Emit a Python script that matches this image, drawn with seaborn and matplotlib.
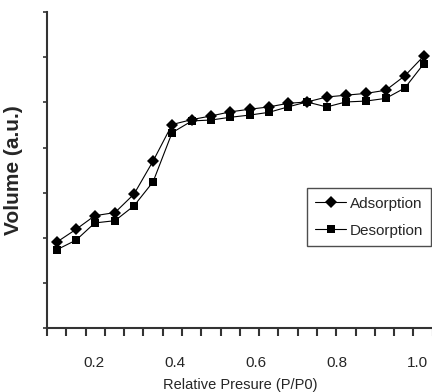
"""
Adsorption / desorption isotherm (volume vs relative pressure).
"""

import matplotlib
matplotlib.use("Agg")
import matplotlib.pyplot as plt
import numpy as np
import pandas as pd
import seaborn as sns

# relative pressure P/P0
P_REL = [0.109, 0.156, 0.202, 0.252, 0.299, 0.346, 0.393, 0.442, 0.489, 0.536,
         0.585, 0.632, 0.679, 0.726, 0.775, 0.822, 0.872, 0.921, 0.968, 1.015]
# volume in arbitrary units
ADSORPTION = [1.91, 2.19, 2.49, 2.56, 2.97, 3.70, 4.51, 4.62, 4.70, 4.79,
              4.85, 4.90, 4.98, 5.01, 5.12, 5.16, 5.20, 5.27, 5.59, 6.03]
DESORPTION = [1.74, 1.95, 2.33, 2.38, 2.71, 3.24, 4.33, 4.59, 4.61, 4.67,
              4.72, 4.78, 4.90, 5.01, 4.90, 5.01, 5.03, 5.09, 5.32, 5.86]
XTICK_LABELS = ["0.2", "0.4", "0.6", "0.8", "1.0"]
XTICKS = [0.2, 0.4, 0.6, 0.8, 1.0]

X_MIN, X_MAX = 0.084, 1.037
Y_MIN, Y_MAX = 0, 7


if __name__ == "__main__":
    sns.set_style("ticks")
    plt.rcParams["font.family"] = ["Liberation Sans", "DejaVu Sans"]

    df = pd.DataFrame({
        "p": P_REL * 2,
        "v": ADSORPTION + DESORPTION,
        "series": ["Adsorption"] * len(P_REL) + ["Desorption"] * len(P_REL),
    })

    fig = plt.figure(figsize=(4.32, 3.92), dpi=100)
    ax = fig.add_axes([0.1088, 0.163, 0.893, 0.806])

    sns.lineplot(
        data=df, x="p", y="v", hue="series", style="series",
        palette=["black", "black"], markers={"Adsorption": "D", "Desorption": "s"},
        dashes=False, linewidth=0.8, markersize=6, markeredgewidth=0,
        ax=ax,
    )

    ax.set_xlim(X_MIN, X_MAX)
    ax.set_ylim(Y_MIN, Y_MAX)
    sns.despine(ax=ax)
    for s in ["left", "bottom"]:
        ax.spines[s].set_color("#333333")
        ax.spines[s].set_linewidth(1.5)

    # labelled positions without marks, short marks between categories
    ax.set_xticks(XTICKS)
    ax.set_xticklabels(XTICK_LABELS, fontsize=11)
    ax.set_xticks(np.linspace(X_MIN, X_MAX, 21), minor=True)
    ax.tick_params(axis="x", which="major", length=0, pad=20)
    ax.tick_params(axis="x", which="minor", length=6, width=1.5, color="#333333", direction="out")
    ax.set_yticks(range(Y_MIN, Y_MAX + 1))
    ax.set_yticklabels([])
    ax.tick_params(axis="y", length=3, width=1.2, color="#333333", direction="out")

    ax.set_xlabel("Relative Presure (P/P0)", fontsize=10.5, labelpad=6)
    ax.set_ylabel("Volume (a.u.)", fontsize=15, fontweight="bold", labelpad=11)

    leg = ax.legend(
        title=None, loc="upper left", bbox_to_anchor=(0.6736, 0.443),
        fontsize=11, frameon=True, fancybox=False, edgecolor="#222222",
        handlelength=2.0, handletextpad=0.25, borderpad=0.55, labelspacing=0.85,
        borderaxespad=0,
    )
    leg.get_frame().set_linewidth(1.0)

    fig.savefig("out.png", dpi=100)
